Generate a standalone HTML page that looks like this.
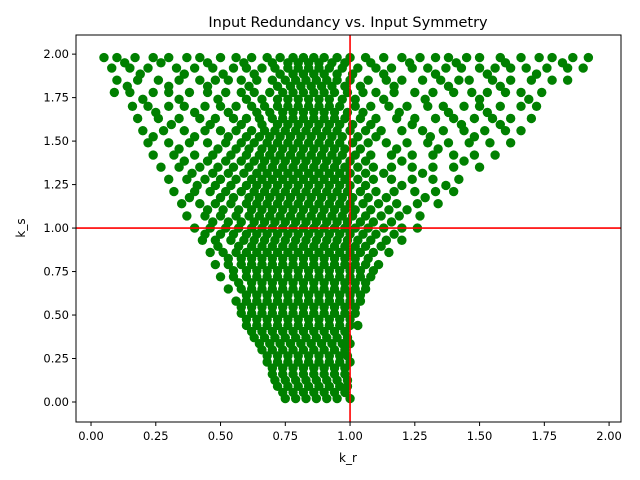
<!DOCTYPE html>
<html><head><meta charset="utf-8">
<style>
html,body{margin:0;padding:0;background:#fff;}
svg{display:block;font-family:"DejaVu Sans","Liberation Sans",sans-serif;}
</style></head>
<body>
<svg id="chart" width="640" height="480" viewBox="0 0 640 480" xmlns="http://www.w3.org/2000/svg">
<rect width="640" height="480" fill="#fff"/>
<text x="348" y="27" text-anchor="middle" font-size="14.5" fill="#000">Input Redundancy vs. Input Symmetry</text>
<g id="points"></g>
<g id="refs"></g>
<rect x="76" y="35" width="545" height="387" fill="none" stroke="#000" stroke-width="1"/>
<g id="xticks"></g>
<g id="yticks"></g>
<text x="348" y="462" text-anchor="middle" font-size="12">k_r</text>
<text x="25" y="228" text-anchor="middle" font-size="12" transform="rotate(-90 25 228)">k_s</text>
</svg>
<script>
const xTicks = [0,0.25,0.5,0.75,1.0,1.25,1.5,1.75,2.0];
const yTicks = [0,0.25,0.5,0.75,1.0,1.25,1.5,1.75,2.0];
const refX = 1.0;
const refY = 1.0;
const rowY = [1.98,1.92,1.85,1.78,1.7,1.63,1.56,1.49,1.42,1.35,1.28,1.21,1.14,1.07,1.0,0.93,0.86,0.79,0.72,0.65,0.58,0.51,0.44,0.37,0.3,0.23,0.16,0.09,0.02];
const rowX = [
[0.05,0.1,0.17,0.24,0.3,0.37,0.42,0.5,0.56,0.62,0.68,0.73,0.78,0.82,0.86,0.9,0.95,1.0,1.06,1.13,1.2,1.27,1.33,1.38,1.45,1.5,1.58,1.66,1.73,1.78,1.86,1.92],
[0.08,0.15,0.22,0.33,0.4,0.47,0.55,0.6,0.66,0.71,0.76,0.8,0.84,0.88,0.92,0.97,1.03,1.1,1.16,1.24,1.3,1.37,1.43,1.5,1.56,1.62,1.68,1.76,1.84,1.9],
[0.1,0.18,0.26,0.34,0.42,0.48,0.53,0.58,0.64,0.7,0.75,0.79,0.83,0.87,0.91,0.95,1.0,1.07,1.14,1.2,1.28,1.35,1.42,1.46,1.55,1.62,1.7,1.78,1.84],
[0.09,0.15,0.24,0.3,0.38,0.45,0.52,0.58,0.63,0.69,0.74,0.78,0.82,0.86,0.9,0.94,0.99,1.05,1.1,1.17,1.25,1.32,1.4,1.47,1.53,1.6,1.66,1.74],
[0.16,0.22,0.3,0.36,0.44,0.5,0.56,0.62,0.67,0.72,0.76,0.8,0.84,0.88,0.92,0.96,1.02,1.08,1.15,1.22,1.3,1.36,1.44,1.5,1.58,1.66,1.72],
[0.18,0.26,0.34,0.42,0.48,0.55,0.6,0.65,0.7,0.74,0.78,0.82,0.86,0.9,0.94,0.98,1.04,1.1,1.18,1.25,1.33,1.4,1.48,1.55,1.62,1.7],
[0.2,0.28,0.36,0.44,0.5,0.56,0.62,0.67,0.71,0.75,0.79,0.83,0.87,0.91,0.95,1.0,1.06,1.12,1.2,1.28,1.36,1.44,1.52,1.6,1.66],
[0.22,0.3,0.38,0.45,0.52,0.58,0.63,0.68,0.72,0.76,0.8,0.84,0.88,0.92,0.96,1.01,1.07,1.14,1.22,1.3,1.38,1.46,1.54,1.62],
[0.24,0.32,0.4,0.47,0.54,0.6,0.65,0.69,0.73,0.77,0.81,0.85,0.89,0.93,0.97,1.02,1.08,1.16,1.24,1.32,1.4,1.48,1.56],
[0.27,0.34,0.42,0.49,0.55,0.61,0.66,0.7,0.74,0.78,0.82,0.86,0.9,0.94,0.98,1.03,1.09,1.16,1.24,1.32,1.4,1.5],
[0.3,0.37,0.44,0.5,0.56,0.62,0.66,0.7,0.74,0.78,0.82,0.86,0.9,0.94,0.98,1.03,1.09,1.16,1.24,1.32,1.42],
[0.32,0.4,0.46,0.52,0.58,0.63,0.67,0.71,0.75,0.79,0.83,0.87,0.91,0.95,0.99,1.04,1.1,1.17,1.25,1.33,1.4],
[0.35,0.42,0.48,0.54,0.6,0.64,0.68,0.72,0.76,0.8,0.84,0.88,0.92,0.96,1.0,1.05,1.11,1.18,1.26,1.34],
[0.37,0.44,0.5,0.56,0.61,0.65,0.69,0.73,0.77,0.81,0.85,0.89,0.93,0.97,1.01,1.06,1.12,1.19,1.27],
[0.4,0.46,0.52,0.57,0.62,0.66,0.7,0.74,0.78,0.82,0.86,0.9,0.94,0.98,1.02,1.07,1.13,1.2,1.26],
[0.43,0.48,0.54,0.59,0.63,0.67,0.71,0.75,0.79,0.83,0.87,0.91,0.95,0.99,1.03,1.08,1.14,1.2],
[0.46,0.51,0.56,0.6,0.64,0.68,0.72,0.76,0.8,0.84,0.88,0.92,0.96,1.0,1.04,1.09,1.15],
[0.48,0.53,0.58,0.62,0.66,0.7,0.74,0.78,0.82,0.86,0.9,0.94,0.98,1.02,1.06,1.11],
[0.5,0.55,0.6,0.64,0.68,0.72,0.76,0.8,0.84,0.88,0.92,0.96,1.0,1.04,1.08],
[0.53,0.58,0.62,0.66,0.7,0.74,0.78,0.82,0.86,0.9,0.94,0.98,1.02,1.06],
[0.56,0.6,0.64,0.68,0.72,0.76,0.8,0.84,0.88,0.92,0.96,1.0,1.04],
[0.58,0.62,0.66,0.7,0.74,0.78,0.82,0.86,0.9,0.94,0.98,1.02],
[0.6,0.64,0.68,0.72,0.76,0.8,0.84,0.88,0.92,0.96,1.0,1.03],
[0.63,0.67,0.71,0.75,0.79,0.83,0.87,0.91,0.95,0.99],
[0.66,0.7,0.74,0.78,0.82,0.86,0.9,0.94,0.98],
[0.68,0.72,0.76,0.8,0.84,0.88,0.92,0.96,1.0],
[0.7,0.74,0.78,0.82,0.86,0.9,0.94,0.98],
[0.72,0.76,0.8,0.84,0.88,0.92,0.96,0.99],
[0.75,0.79,0.83,0.87,0.91,0.95,1.0]
];
const rowY2 = [1.95,1.885,1.815,1.74,1.665,1.595,1.525,1.455,1.385,1.315,1.245,1.175,1.105,1.035,0.965,0.895,0.825,0.755,0.685,0.615,0.545,0.475,0.405,0.335,0.265,0.195,0.125,0.055];
const rowX2 = [
[0.13,0.27,0.45,0.59,0.7,0.76,0.8,0.84,0.88,0.93,0.98,1.08,1.23,1.41,1.6,1.82],
[0.19,0.36,0.51,0.63,0.73,0.78,0.82,0.86,0.9,0.95,1.01,1.13,1.33,1.53,1.72],
[0.14,0.3,0.45,0.61,0.72,0.77,0.81,0.85,0.89,0.93,0.98,1.04,1.17,1.38,1.58],
[0.2,0.34,0.49,0.6,0.66,0.72,0.76,0.8,0.84,0.88,0.92,0.97,1.02,1.13,1.29,1.5,1.69],
[0.25,0.4,0.53,0.64,0.69,0.74,0.78,0.82,0.86,0.9,0.94,0.99,1.05,1.19,1.38,1.53],
[0.31,0.46,0.58,0.66,0.72,0.76,0.8,0.84,0.88,0.92,0.96,1.01,1.08,1.24,1.43,1.58],
[0.24,0.4,0.53,0.6,0.65,0.69,0.73,0.77,0.81,0.85,0.89,0.93,0.97,1.03,1.1,1.31,1.48],
[0.34,0.49,0.56,0.61,0.66,0.7,0.74,0.78,0.82,0.86,0.9,0.94,0.98,1.04,1.18,1.34],
[0.36,0.45,0.52,0.58,0.63,0.67,0.71,0.75,0.79,0.83,0.87,0.91,0.95,1.0,1.06,1.2,1.44],
[0.39,0.47,0.53,0.59,0.64,0.68,0.72,0.76,0.8,0.84,0.88,0.92,0.96,1.0,1.06,1.13,1.28],
[0.41,0.48,0.54,0.6,0.64,0.68,0.72,0.76,0.8,0.84,0.88,0.92,0.96,1.0,1.06,1.2,1.37],
[0.38,0.5,0.55,0.61,0.65,0.69,0.73,0.77,0.81,0.85,0.89,0.93,0.97,1.01,1.07,1.14,1.29],
[0.45,0.51,0.57,0.62,0.66,0.7,0.74,0.78,0.82,0.86,0.9,0.94,0.98,1.02,1.08,1.15,1.22],
[0.47,0.53,0.58,0.63,0.67,0.71,0.75,0.79,0.83,0.87,0.91,0.95,0.99,1.04,1.09,1.16],
[0.44,0.5,0.55,0.6,0.64,0.68,0.72,0.76,0.8,0.84,0.88,0.92,0.96,1.0,1.05,1.1,1.17],
[0.49,0.57,0.62,0.66,0.7,0.74,0.78,0.82,0.86,0.9,0.94,0.98,1.02,1.06,1.12],
[0.53,0.58,0.62,0.66,0.7,0.74,0.78,0.82,0.86,0.9,0.94,0.98,1.02,1.07],
[0.55,0.6,0.64,0.68,0.72,0.76,0.8,0.84,0.88,0.92,0.96,1.0,1.04,1.09],
[0.57,0.62,0.66,0.7,0.74,0.78,0.82,0.86,0.9,0.94,0.98,1.02,1.06],
[0.6,0.64,0.68,0.72,0.76,0.8,0.84,0.88,0.92,0.96,1.0,1.04],
[0.58,0.62,0.66,0.7,0.74,0.78,0.82,0.86,0.9,0.94,0.98,1.02],
[0.6,0.64,0.68,0.72,0.76,0.8,0.84,0.88,0.92,0.96,1.0],
[0.62,0.66,0.7,0.74,0.78,0.82,0.86,0.9,0.94,0.98],
[0.65,0.69,0.73,0.77,0.81,0.85,0.89,0.93,0.97,1.0],
[0.68,0.72,0.76,0.8,0.84,0.88,0.92,0.96,0.99],
[0.7,0.74,0.78,0.82,0.86,0.9,0.94,0.98],
[0.71,0.75,0.79,0.83,0.87,0.91,0.95,0.99],
[0.74,0.78,0.82,0.86,0.9,0.94,0.98]
];
const NS='http://www.w3.org/2000/svg';
const X0=76,X1=621,Y0=422,Y1=35;
const xMin=-0.058,xMax=2.046,yMin=-0.115,yMax=2.11;
function sx(v){return X0+(v-xMin)/(xMax-xMin)*(X1-X0);}
function sy(v){return Y0-(v-yMin)/(yMax-yMin)*(Y0-Y1);}
const pts=document.getElementById('points');
function drawRows(ys,xs){
  ys.forEach(function(y,i){
    xs[i].forEach(function(x){
      const c=document.createElementNS(NS,'circle');
      c.setAttribute('cx',sx(x));c.setAttribute('cy',sy(y));c.setAttribute('r',4.7);
      c.setAttribute('fill','#008000');
      
      
      pts.appendChild(c);
    });
  });
}
drawRows(rowY,rowX);
drawRows(rowY2,rowX2);
const refs=document.getElementById('refs');
const v=document.createElementNS(NS,'line');
v.setAttribute('x1',sx(refX));v.setAttribute('x2',sx(refX));v.setAttribute('y1',Y1);v.setAttribute('y2',Y0);
v.setAttribute('stroke','#ff0000');v.setAttribute('stroke-width',1.6);


refs.appendChild(v);
const h=document.createElementNS(NS,'line');
h.setAttribute('x1',X0);h.setAttribute('x2',X1);h.setAttribute('y1',sy(refY));h.setAttribute('y2',sy(refY));
h.setAttribute('stroke','#ff0000');h.setAttribute('stroke-width',1.6);


refs.appendChild(h);
const xg=document.getElementById('xticks');
xTicks.forEach(function(t){
  const l=document.createElementNS(NS,'line');
  l.setAttribute('x1',sx(t));l.setAttribute('x2',sx(t));l.setAttribute('y1',Y0);l.setAttribute('y2',Y0+4);l.setAttribute('stroke','#000');
  
  
  xg.appendChild(l);
  const tx=document.createElementNS(NS,'text');
  tx.setAttribute('x',sx(t));tx.setAttribute('y',Y0+18);tx.setAttribute('text-anchor','middle');tx.setAttribute('font-size','11.5');
  tx.textContent=t.toFixed(2);
  
  
  xg.appendChild(tx);
});
const yg=document.getElementById('yticks');
yTicks.forEach(function(t){
  const l=document.createElementNS(NS,'line');
  l.setAttribute('x1',X0-4);l.setAttribute('x2',X0);l.setAttribute('y1',sy(t));l.setAttribute('y2',sy(t));l.setAttribute('stroke','#000');
  
  
  yg.appendChild(l);
  const tx=document.createElementNS(NS,'text');
  tx.setAttribute('x',X0-7);tx.setAttribute('y',sy(t)+4);tx.setAttribute('text-anchor','end');tx.setAttribute('font-size','11.5');
  tx.textContent=t.toFixed(2);
  
  
  yg.appendChild(tx);
});
</script>
</body></html>
